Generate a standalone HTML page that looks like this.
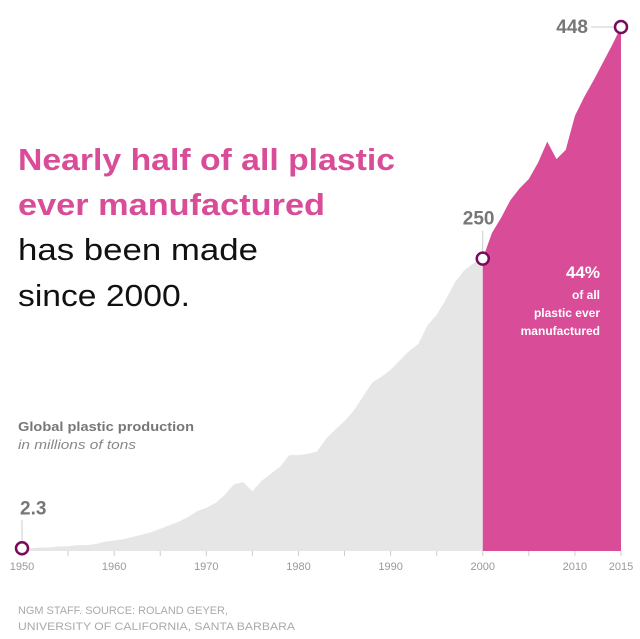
<!DOCTYPE html>
<html><head><meta charset="utf-8"><style>
body{margin:0;background:#fff;width:640px;height:639px;overflow:hidden;font-family:"Liberation Sans",sans-serif}
</style></head><body>
<svg width="640" height="639" style="position:absolute;left:0;top:0">
<g id="areas"></g>
<g id="axis"></g>
<g id="marks"></g>
<text x="18" y="170" font-size="31" font-weight="bold" fill="#d94c98" textLength="377" lengthAdjust="spacingAndGlyphs">Nearly half of all plastic</text>
<text x="18" y="215" font-size="31" font-weight="bold" fill="#d94c98" textLength="307" lengthAdjust="spacingAndGlyphs">ever manufactured</text>
<text x="18" y="260" font-size="31" fill="#111" textLength="240" lengthAdjust="spacingAndGlyphs">has been made</text>
<text x="18" y="306" font-size="31" fill="#111" textLength="172" lengthAdjust="spacingAndGlyphs">since 2000.</text>
<text x="18" y="431" font-size="13" font-weight="bold" fill="#777" textLength="176" lengthAdjust="spacingAndGlyphs">Global plastic production</text>
<text x="18" y="449" font-size="13" font-style="italic" fill="#888" textLength="118" lengthAdjust="spacingAndGlyphs">in millions of tons</text>
<text x="600" y="278" font-size="17" font-weight="bold" fill="#fff" text-anchor="end">44%</text>
<text x="600" y="299" font-size="12" font-weight="bold" fill="#fff" text-anchor="end">of all</text>
<text x="600" y="317" font-size="12" font-weight="bold" fill="#fff" text-anchor="end">plastic ever</text>
<text x="600" y="335" font-size="12" font-weight="bold" fill="#fff" text-anchor="end">manufactured</text>
<text x="18" y="614" font-size="11" fill="#aaa" textLength="210" lengthAdjust="spacingAndGlyphs">NGM STAFF. SOURCE: ROLAND GEYER,</text>
<text x="18" y="630" font-size="11" fill="#aaa" textLength="277" lengthAdjust="spacingAndGlyphs">UNIVERSITY OF CALIFORNIA, SANTA BARBARA</text>
</svg>
<script>
const years=[1950,1951,1952,1953,1954,1955,1956,1957,1958,1959,1960,1961,1962,1963,1964,1965,1966,1967,1968,1969,1970,1971,1972,1973,1974,1975,1976,1977,1978,1979,1980,1981,1982,1983,1984,1985,1986,1987,1988,1989,1990,1991,1992,1993,1994,1995,1996,1997,1998,1999,2000,2001,2002,2003,2004,2005,2006,2007,2008,2009,2010,2011,2012,2013,2014,2015];
const production=[2.3,2.5,3,3,4,4,5,5,6,8,9,10,12,14,16,19,22,25,29,34,37,41,48,57,59,51,60,66,72,82,82,83,85,96,104,111,120,132,144,149,155,163,171,177,193,202,215,230,240,246,250,272,285,300,310,318,332,350,335,343,372,388,402,417,432,448];
const xTicks=[1950,1960,1970,1980,1990,2000,2010,2015];
const minorTicks=[1955,1965,1975,1985,1995,2005];
const annotated=[1950,2000,2015];
const splitYear=2000;
const NS='http://www.w3.org/2000/svg';
const X0=22,X1=621,Y0=551,YT=27;
const x=y=>X0+(y-1950)*(X1-X0)/65;
const yv=v=>Y0-v*(Y0-YT)/448;
function mk(t,a,p){const e=document.createElementNS(NS,t);for(const k in a)e.setAttribute(k,a[k]);p.appendChild(e);return e;}
const areas=document.getElementById('areas'),axis=document.getElementById('axis'),marks=document.getElementById('marks');
function area(from,to,fill,name){let d='M'+x(from)+','+Y0;years.forEach((yr,i)=>{if(yr>=from&&yr<=to)d+='L'+x(yr)+','+yv(production[i]);});d+='L'+x(to)+','+Y0+'Z';
const p=mk('path',{d:d,fill:fill},areas);

}
area(1950,splitYear,'#e6e6e6','area-before-2000');
area(splitYear,2015,'#d94c98','area-since-2000');
minorTicks.concat(xTicks).forEach(t=>{const l=mk('line',{x1:x(t),x2:x(t),y1:Y0,y2:Y0+5,stroke:'#ccc'},axis);

});
xTicks.forEach(t=>{const tx=mk('text',{x:x(t),y:570,'font-size':11,fill:'#999','text-anchor':'middle'},axis);tx.textContent=t;

});
annotated.forEach(yr=>{const v=production[years.indexOf(yr)];const cx=x(yr),cy=yv(v);
let lx,ly,anchor,label=String(v);
if(yr===2015){mk('line',{x1:cx-30,x2:cx-6,y1:cy,y2:cy,stroke:'#ccc'},marks);lx=cx-33;ly=cy+6;anchor='end';}
else{mk('line',{x1:cx,x2:cx,y1:cy-28,y2:cy-6,stroke:'#ccc'},marks);lx=yr===1950?cx-2:cx-20;ly=cy-34;anchor='start';}
const c=mk('circle',{cx:cx,cy:cy,r:6,fill:'#fff',stroke:'#7a0a5a','stroke-width':2.5},marks);


const t=mk('text',{x:lx,y:ly,'font-size':19,'font-weight':'bold',fill:'#777','text-anchor':anchor},marks);t.textContent=label;

});
</script>
</body></html>
